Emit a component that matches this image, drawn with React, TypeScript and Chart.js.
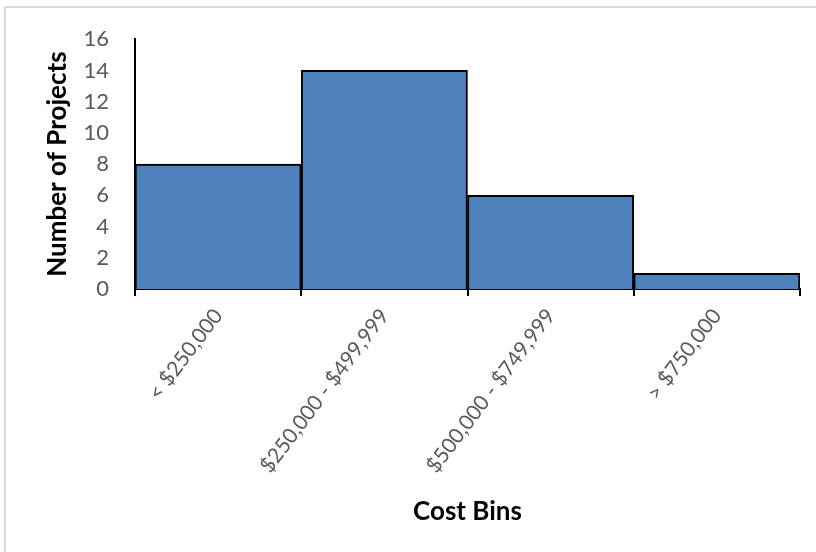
import React, { useEffect, useRef } from "react";
import { Chart, registerables } from "chart.js";

Chart.register(...registerables);

const categories = ["< $250,000", "$250,000 - $499,999", "$500,000 - $749,999", "> $750,000"];
const projectCounts = [8, 14, 6, 1];
const yTickValues = [0, 2, 4, 6, 8, 10, 12, 14, 16];

export default function App() {
  const canvasRef = useRef<HTMLCanvasElement | null>(null);

  useEffect(() => {
    const canvas = canvasRef.current;
    if (!canvas) return;
    const chart = new Chart(canvas, {
      type: "bar",
      data: {
        labels: categories,
        datasets: [
          {
            data: projectCounts,
            backgroundColor: "#4F81BD",
            borderColor: "#000000",
            borderWidth: 2,
            barPercentage: 1,
            categoryPercentage: 1,
          },
        ],
      },
      options: {
        animation: false,
        responsive: false,
        devicePixelRatio: 1,
        layout: { padding: { top: 36, right: 16, left: 0, bottom: 0 } },
        plugins: { legend: { display: false }, tooltip: { enabled: false } },
        scales: {
          x: {
            offset: true,
            grid: {
              display: true,
              offset: true,
              drawOnChartArea: false,
              drawTicks: true,
              tickLength: 7,
              color: "#000000",
              lineWidth: 2,
            },
            border: { display: true, color: "#000000", width: 2 },
            ticks: {
              maxRotation: 53,
              minRotation: 53,
              padding: 8,
              color: "#595959",
              font: { family: "Lato", size: 21 },
            },
            title: {
              display: true,
              text: "Cost Bins",
              color: "#000000",
              font: { family: "Lato", size: 26, weight: "bold" },
              padding: { top: 0, bottom: 25 },
            },
            afterFit: (scale: any) => {
              scale.height = 552 - 289;
            },
          },
          y: {
            min: 0,
            max: 16,
            afterBuildTicks: (scale: any) => {
              scale.ticks = yTickValues.map((v) => ({ value: v }));
            },
            grid: { display: false, drawTicks: false },
            border: { display: true, color: "#000000", width: 2 },
            ticks: {
              padding: 26,
              color: "#595959",
              font: { family: "Lato", size: 22 },
            },
            title: {
              display: true,
              text: "Number of Projects",
              color: "#000000",
              font: { family: "Lato", size: 26, weight: "bold" },
              padding: { top: 42, bottom: 0 },
            },
            afterFit: (scale: any) => {
              scale.width = 135;
            },
          },
        },
      },
    });
    return () => chart.destroy();
  }, []);

  return (
    <div
      style={{
        position: "fixed",
        left: 0,
        top: 0,
        width: 816,
        height: 552,
        overflow: "hidden",
        background: "#ffffff",
      }}
    >
      <div
        style={{
          position: "absolute",
          left: 4,
          top: 6,
          width: 900,
          height: 700,
          border: "2px solid #d9d9d9",
          boxSizing: "border-box",
        }}
      />
      <canvas
        ref={canvasRef}
        width={816}
        height={552}
        style={{ position: "absolute", left: 0, top: 0, width: 816, height: 552 }}
      />
    </div>
  );
}
